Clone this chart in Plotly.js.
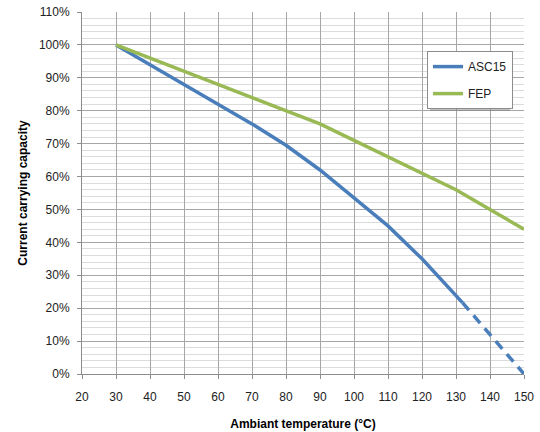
<!DOCTYPE html>
<html><head><meta charset="utf-8">
<script src="https://cdn.plot.ly/plotly-3.0.1.min.js"></script>
<style>html,body{margin:0;padding:0;background:#fff}#chart{width:540px;height:432px}</style>
</head><body><div id="chart"></div>
<script>
// Data
const ascTemps = [30, 40, 50, 60, 70, 80, 90, 100, 110, 120, 130, 131.9];
const ascValues = [100, 94, 88, 82, 76, 69.5, 62, 53.5, 45, 35, 23.5, 21.7];
const ascDashTemps = [131.9, 150];
const ascDashValues = [21.7, 0];
const fepTemps = [30, 40, 50, 60, 70, 80, 90, 100, 110, 120, 130, 140, 150];
const fepValues = [100, 96, 92, 88, 84, 80, 76, 71, 66, 61, 56, 50, 44];
const xTicks = [20, 30, 40, 50, 60, 70, 80, 90, 100, 110, 120, 130, 140, 150];
const yTicks = [0, 10, 20, 30, 40, 50, 60, 70, 80, 90, 100, 110];
const yTickLabels = yTicks.map(v => v + '%');

const blue = '#4a7ebb', green = '#98b954';
const font = 'Liberation Sans, Arial, sans-serif';

const traces = [
  {x: ascTemps, y: ascValues, name: 'ASC15', mode: 'lines', line: {color: blue, width: 3.5}, legendgroup: 'a'},
  {x: ascDashTemps, y: ascDashValues, name: 'ASC15', mode: 'lines', showlegend: false,
   line: {color: blue, width: 3.5, dash: '10px,7px'}, legendgroup: 'a'},
  {x: fepTemps, y: fepValues, name: 'FEP', mode: 'lines', line: {color: green, width: 3.5}, legendgroup: 'b'}
];

const layout = {
  width: 540, height: 432,
  margin: {l: 82, r: 16, t: 12, b: 58},
  paper_bgcolor: '#fff', plot_bgcolor: '#fff',
  font: {family: font, size: 12, color: '#222'},
  showlegend: true,
  legend: {x: 0.7805, y: 0.892, xanchor: 'left', yanchor: 'top',
    bgcolor: '#fff', bordercolor: '#8c8c8c', borderwidth: 1,
    traceorder: 'grouped', tracegroupgap: 8,
    font: {family: font, size: 12, color: '#222'}},
  xaxis: {range: [20, 150], tickvals: xTicks, ticktext: xTicks.map(String),
    showgrid: true, gridcolor: '#a6a6a6', gridwidth: 1,
    showline: true, linecolor: '#8c8c8c', linewidth: 1, mirror: false,
    ticks: 'outside', ticklen: 4, tickcolor: '#8c8c8c', zeroline: false,
    ticklabelstandoff: 8,
    tickfont: {family: font, size: 12, color: '#222'},
    title: {text: 'Ambiant temperature (°C)', font: {family: font, size: 12, color: '#000', weight: 'bold'}, standoff: 16}},
  yaxis: {range: [0, 110], tickvals: yTicks, ticktext: yTickLabels,
    showgrid: true, gridcolor: '#a6a6a6', gridwidth: 1,
    minor: {dtick: 2, showgrid: true, gridcolor: '#dcdcdc', gridwidth: 1},
    showline: true, linecolor: '#8c8c8c', linewidth: 1,
    ticks: 'outside', ticklen: 4, tickcolor: '#8c8c8c', zeroline: false,
    ticklabelstandoff: 5,
    tickfont: {family: font, size: 12, color: '#222'},
    title: {text: 'Current carrying capacity', font: {family: font, size: 12, color: '#000', weight: 'bold'}, standoff: 8}},
  shapes: [
    {type: 'rect', xref: 'paper', yref: 'paper', layer: 'above',
     x0: (430 - 82) / 442, x1: (510 - 82) / 442, y0: (374 - 111) / 362, y1: (374 - 56) / 362,
     fillcolor: 'rgba(120,120,120,0.45)', line: {width: 0}}
  ]
};

Plotly.newPlot('chart', traces, layout, {displayModeBar: false, staticPlot: true});
</script></body></html>
